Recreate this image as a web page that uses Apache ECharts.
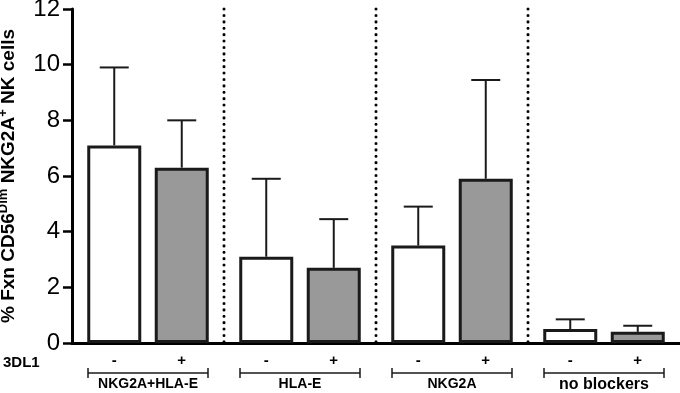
<!DOCTYPE html>
<html>
<head>
<meta charset="utf-8">
<script src="https://cdn.jsdelivr.net/npm/echarts@6/dist/echarts.min.js"></script>
<style>
  html, body { margin: 0; padding: 0; background: #fff; }
  #chart { width: 680px; height: 393px; }
</style>
</head>
<body>
<div id="chart"></div>
<script>
// blocker groups, each with 3DL1- (white) and 3DL1+ (grey) bars
const groups = ['NKG2A+HLA-E', 'HLA-E', 'NKG2A', 'no blockers']
const minusMean = [7.1, 3.1, 3.5, 0.5]
const minusUpper = [9.9, 5.9, 4.9, 0.85]
const plusMean = [6.3, 2.7, 5.9, 0.4]
const plusUpper = [8.0, 4.45, 9.45, 0.62]
const signs = ['-', '+']
const yTicks = [0, 12, 2] // min, max, step

const BAR_W = 54
const BAR_GAP = 0.25
const OFFSET = BAR_W * (1 + BAR_GAP) / 2
const FONT = '"Liberation Sans", Arial, sans-serif'

const errData = []
groups.forEach((g, i) => {
  errData.push([i, minusMean[i], minusUpper[i], -1])
  errData.push([i, plusMean[i], plusUpper[i], 1])
})

function renderErr(params, api) {
  const gi = api.value(0)
  const base = api.coord([gi, api.value(1)])
  const top = api.coord([gi, api.value(2)])
  const x = base[0] + api.value(3) * OFFSET
  const style = { stroke: '#1a1a1a', lineWidth: 2 }
  return {
    type: 'group',
    children: [
      { type: 'line', shape: { x1: x, y1: base[1], x2: x, y2: top[1] }, style },
      { type: 'line', shape: { x1: x - 14.5, y1: top[1], x2: x + 14.5, y2: top[1] }, style }
    ]
  }
}

function renderDecor(params, api) {
  const gi = api.value(0)
  const c = api.coord([gi, yTicks[0]])
  const topY = api.coord([gi, yTicks[1]])[1]
  const w = api.size([1, 0])[0]
  const children = []
  if (gi < groups.length - 1) {
    children.push({
      type: 'line',
      shape: { x1: c[0] + w / 2, y1: topY, x2: c[0] + w / 2, y2: c[1] },
      style: { stroke: '#000', lineWidth: 3, lineDash: [0.1, 6.3], lineCap: 'round' }
    })
  }
  const by = c[1] + 30
  const half = 60
  const bs = { stroke: '#1a1a1a', lineWidth: 1.5 }
  children.push(
    { type: 'line', shape: { x1: c[0] - half, y1: by, x2: c[0] + half, y2: by }, style: bs },
    { type: 'line', shape: { x1: c[0] - half, y1: by - 5, x2: c[0] - half, y2: by + 5 }, style: bs },
    { type: 'line', shape: { x1: c[0] + half, y1: by - 5, x2: c[0] + half, y2: by + 5 }, style: bs }
  )
  signs.forEach((s, k) => {
    children.push({
      type: 'text',
      style: {
        text: s, x: c[0] + (k === 0 ? -OFFSET : OFFSET), y: c[1] + 18,
        align: 'center', verticalAlign: 'middle',
        font: 'bold 15px ' + FONT, fill: '#000'
      }
    })
  })
  return { type: 'group', children }
}

const chart = echarts.init(document.getElementById('chart'))
chart.setOption({
  animation: false,
  grid: { left: 72, right: 0, top: 9, bottom: 50, containLabel: false, outerBoundsMode: 'none' },
  xAxis: {
    type: 'category',
    data: groups,
    axisLine: { lineStyle: { color: '#000', width: 3 } },
    axisTick: { show: false },
    axisLabel: {
      margin: 34,
      formatter: (v, i) => i === groups.length - 1 ? '{l|' + v + '}' : '{n|' + v + '}',
      rich: {
        n: { color: '#000', fontSize: 14, fontWeight: 'bold', fontFamily: FONT },
        l: { color: '#000', fontSize: 16, fontWeight: 'bold', fontFamily: FONT }
      }
    }
  },
  yAxis: {
    type: 'value',
    min: yTicks[0],
    max: yTicks[1],
    interval: yTicks[2],
    axisLine: { show: true, lineStyle: { color: '#000', width: 3 } },
    axisTick: { show: true, length: 9, lineStyle: { color: '#000', width: 2.5 } },
    splitLine: { show: false },
    axisLabel: { margin: 12, color: '#000', fontSize: 24, fontFamily: FONT },
    name: '{b|% Fxn CD56}{s|Dim}{b| NKG2A}{s|+}{b| NK cells}',
    nameLocation: 'middle',
    nameGap: 52,
    nameRotate: 90,
    nameTextStyle: {
      rich: {
        b: { fontSize: 19, fontWeight: 'bold', color: '#000', fontFamily: FONT, lineHeight: 23 },
        s: { fontSize: 13, fontWeight: 'bold', color: '#000', fontFamily: FONT, verticalAlign: 'top', lineHeight: 15 }
      }
    }
  },
  graphic: [{
    type: 'text', left: 3, top: 355,
    style: { text: '3DL1', font: 'bold 15px ' + FONT, fill: '#000' }
  }],
  series: [
    {
      name: '3DL1-', type: 'bar', data: minusMean, barWidth: BAR_W, barGap: (BAR_GAP * 100) + '%',
      itemStyle: { color: '#fff', borderColor: '#1a1a1a', borderWidth: 3 }
    },
    {
      name: '3DL1+', type: 'bar', data: plusMean, barWidth: BAR_W,
      itemStyle: { color: '#999', borderColor: '#1a1a1a', borderWidth: 3 }
    },
    {
      type: 'custom', renderItem: renderErr, data: errData,
      encode: { x: 0, y: 1 }, clip: false, silent: true, z: 3
    },
    {
      type: 'custom', renderItem: renderDecor, data: groups.map((g, i) => [i, 0]),
      encode: { x: 0, y: 1 }, clip: false, silent: true, z: 1
    }
  ]
})
</script>
</body>
</html>
